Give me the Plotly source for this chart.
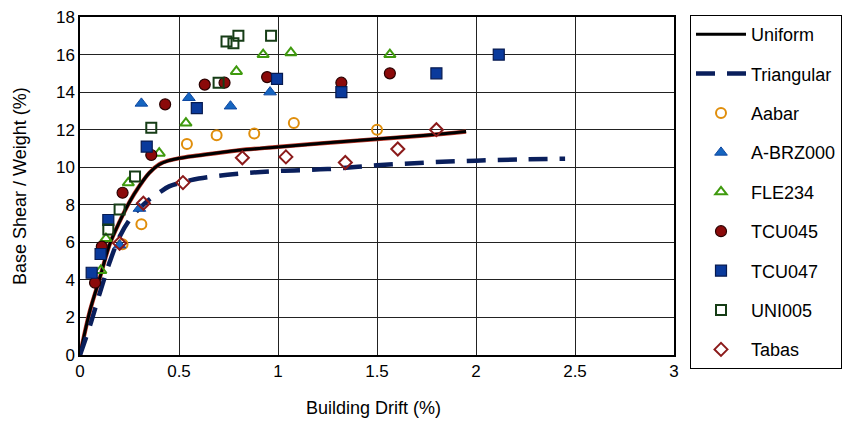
import plotly.graph_objects as go

# Pushover capacity curves (drift %, base shear / weight %)
uniform_x = [0, 0.05, 0.1, 0.15, 0.2, 0.25, 0.3, 0.35, 0.4, 0.45, 0.5, 0.6, 0.8, 1.0, 1.25, 1.5, 1.75, 1.95]
uniform_y = [0, 2.35, 4.1, 5.9, 7.1, 8.15, 9.0, 9.7, 10.15, 10.36, 10.48, 10.63, 10.9, 11.08, 11.3, 11.5, 11.7, 11.9]

triangular_x = [0, 0.05, 0.1, 0.15, 0.2, 0.25, 0.3, 0.35, 0.4, 0.45, 0.5, 0.6, 0.8, 1.0, 1.25, 1.5, 1.75, 2.0, 2.25, 2.45]
triangular_y = [0, 1.55, 3.3, 4.95, 6.3, 7.2, 7.8, 8.28, 8.65, 8.98, 9.15, 9.4, 9.65, 9.8, 9.9, 10.1, 10.25, 10.35, 10.42, 10.45]

# Time-history results per ground motion record
aabar_x = [0.215, 0.31, 0.54, 0.69, 0.88, 1.08, 1.5]
aabar_y = [5.9, 6.96, 11.24, 11.7, 11.8, 12.35, 12.0]

abrz_x = [0.2, 0.3, 0.31, 0.55, 0.76, 0.96]
abrz_y = [5.85, 7.8, 13.4, 13.7, 13.25, 14.0]

fle_x = [0.105, 0.131, 0.244, 0.4, 0.535, 0.79, 0.925, 1.065, 1.565]
fle_y = [4.5, 6.2, 9.17, 10.75, 12.35, 15.1, 16.0, 16.1, 16.0]

tcu045_x = [0.076, 0.11, 0.215, 0.36, 0.43, 0.63, 0.73, 0.945, 1.32, 1.565]
tcu045_y = [3.85, 5.77, 8.64, 10.65, 13.35, 14.4, 14.5, 14.8, 14.5, 15.0]

tcu047_x = [0.059, 0.104, 0.143, 0.337, 0.59, 0.995, 1.32, 1.8, 2.115]
tcu047_y = [4.38, 5.38, 7.19, 11.1, 13.15, 14.7, 14.0, 15.0, 16.0]

uni005_x = [0.143, 0.2, 0.278, 0.36, 0.7, 0.74, 0.775, 0.8, 0.965]
uni005_y = [6.69, 7.75, 9.5, 12.1, 14.5, 16.7, 16.6, 17.0, 17.0]

tabas_x = [0.2, 0.32, 0.52, 0.82, 1.04, 1.34, 1.605, 1.8]
tabas_y = [5.95, 8.08, 9.18, 10.5, 10.55, 10.25, 10.97, 12.0]

x_ticks = [0, 0.5, 1, 1.5, 2, 2.5, 3]
y_ticks = [0, 2, 4, 6, 8, 10, 12, 14, 16, 18]

FONT = "Liberation Sans, Arial, sans-serif"

fig = go.Figure()

# thin red halo under the uniform curve
fig.add_trace(go.Scatter(x=uniform_x, y=uniform_y, mode="lines", showlegend=False,
                         line=dict(color="#c0392b", width=4.2, shape="spline"), hoverinfo="skip"))
fig.add_trace(go.Scatter(x=uniform_x, y=uniform_y, mode="lines", name="Uniform", legendgroup="a",
                         line=dict(color="black", width=3, shape="spline")))
fig.add_trace(go.Scatter(x=triangular_x, y=triangular_y, mode="lines", name="Triangular", legendgroup="b",
                         line=dict(color="#0a1f5c", width=4.5, dash="19px,12px", shape="spline")))

marker_specs = [
    ("Aabar", aabar_x, aabar_y, dict(symbol="circle-open", color="#e08e0b", size=10, line=dict(width=2, color="#e08e0b"))),
    ("A-BRZ000", abrz_x, abrz_y, dict(symbol="triangle-up", color="#1565c0", size=11, line=dict(width=1, color="#0d47a1"))),
    ("FLE234", fle_x, fle_y, dict(symbol="triangle-up-open", color="#3f9a0e", size=10, line=dict(width=2, color="#3f9a0e"))),
    ("TCU045", tcu045_x, tcu045_y, dict(symbol="circle", color="#8b0a0a", size=11, line=dict(width=1.2, color="#2a0000"))),
    ("TCU047", tcu047_x, tcu047_y, dict(symbol="square", color="#0a3a9c", size=11, line=dict(width=1.2, color="#061a50"))),
    ("UNI005", uni005_x, uni005_y, dict(symbol="square-open", color="#163d16", size=10, line=dict(width=2, color="#163d16"))),
    ("Tabas", tabas_x, tabas_y, dict(symbol="diamond-open", color="#8b1a1a", size=10, line=dict(width=2, color="#8b1a1a"))),
]
for i, (name, xs, ys, mk) in enumerate(marker_specs):
    fig.add_trace(go.Scatter(x=xs, y=ys, mode="markers", name=name, legendgroup="g%d" % i, marker=mk))

axis_common = dict(
    showline=True, linecolor="black", linewidth=1.5, mirror=True,
    showgrid=True, gridcolor="#222222", gridwidth=1.3,
    zeroline=False, ticks="", automargin=False,
    tickfont=dict(family=FONT, size=17, color="black"),
)

fig.update_layout(
    width=844, height=421,
    margin=dict(l=80, r=170, t=17, b=66),
    paper_bgcolor="white", plot_bgcolor="white",
    font=dict(family=FONT, color="black"),
    xaxis=dict(range=[0, 3], tickvals=x_ticks, ticktext=[str(v) for v in x_ticks], **axis_common),
    yaxis=dict(range=[0, 18], tickvals=y_ticks, ticktext=[str(v) for v in y_ticks], **axis_common),
    legend=dict(xref="container", yref="container", x=690 / 844, y=1 - 15 / 421,
                xanchor="left", yanchor="top",
                bordercolor="black", borderwidth=1, bgcolor="white",
                font=dict(family=FONT, size=18, color="black"),
                traceorder="grouped", tracegroupgap=13, itemwidth=50,
                maxheight=500),
    annotations=[
        dict(text="Building Drift (%)", xref="paper", yref="paper", x=0.494, y=-0.158,
             xanchor="center", yanchor="middle", showarrow=False,
             font=dict(family=FONT, size=18, color="black")),
        dict(text="Base Shear / Weight (%)", xref="paper", yref="paper", x=-0.101, y=0.5,
             xanchor="center", yanchor="middle", textangle=-90, showarrow=False,
             font=dict(family=FONT, size=18, color="black")),
    ],
)

fig.write_html("out.html")
